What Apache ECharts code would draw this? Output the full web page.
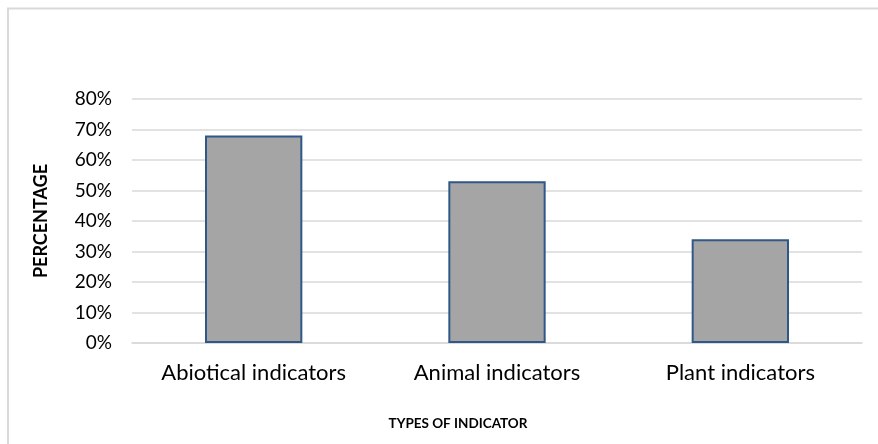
<!DOCTYPE html>
<html>
<head>
<meta charset="utf-8">
<script src="https://cdn.jsdelivr.net/npm/echarts@6/dist/echarts.min.js"></script>
<style>
  html, body { margin: 0; padding: 0; background: #fff; }
  #myChart { width: 878px; height: 444px; }
</style>
</head>
<body>
<div id="myChart"></div>
<script>
// chart data
const categories = ['Abiotical indicators', 'Animal indicators', 'Plant indicators']
const percentages = [68, 53, 34]
const yTicks = [0, 10, 20, 30, 40, 50, 60, 70, 80]

let myChart = echarts.init(document.getElementById('myChart'))
myChart.setOption({
  animation: false,
  graphic: [{
    type: 'rect',
    shape: { x: 8, y: 8.5, width: 900, height: 500 },
    style: { fill: 'none', stroke: '#d9d9d9', lineWidth: 2 },
    z: -1
  }],
  grid: {
    left: 132,
    right: 16,
    top: 99,
    bottom: 101
  },
  xAxis: {
    type: 'category',
    data: categories,
    name: 'TYPES OF INDICATOR',
    nameLocation: 'middle',
    nameGap: 74,
    nameTextStyle: {
      fontFamily: 'Lato',
      fontWeight: 'bold',
      fontSize: 13.5,
      color: '#000',
      padding: [0, 78, 0, 0]
    },
    axisLine: { lineStyle: { color: '#d9d9d9', width: 1.5 } },
    axisTick: { show: false },
    axisLabel: {
      fontFamily: 'Lato',
      fontSize: 22,
      color: '#000',
      margin: 19
    }
  },
  yAxis: {
    type: 'value',
    min: yTicks[0],
    max: yTicks[yTicks.length - 1],
    interval: 10,
    name: 'PERCENTAGE',
    nameLocation: 'middle',
    nameGap: 82,
    nameRotate: 90,
    nameTextStyle: {
      fontFamily: 'Lato',
      fontWeight: 'bold',
      fontSize: 18,
      color: '#000'
    },
    axisLine: { show: false },
    axisTick: { show: false },
    axisLabel: {
      fontFamily: 'Lato',
      fontSize: 19,
      color: '#000',
      margin: 20,
      formatter: '{value}%'
    },
    splitLine: { lineStyle: { color: '#d9d9d9', width: 1.5 } }
  },
  series: [{
    type: 'bar',
    data: percentages,
    barWidth: '40%',
    itemStyle: {
      color: '#a5a5a5',
      borderColor: '#2f5888',
      borderWidth: 2
    }
  }]
})
</script>
</body>
</html>
